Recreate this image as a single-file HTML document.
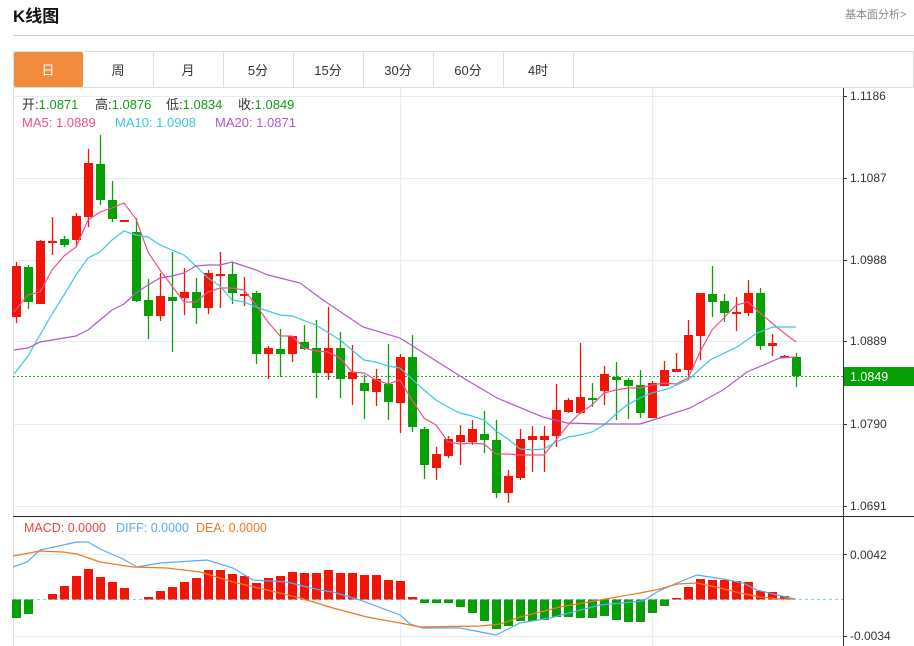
<!DOCTYPE html>
<html><head><meta charset="utf-8"><style>
html,body{margin:0;padding:0;background:#fff;width:914px;height:646px;overflow:hidden;font-family:"Liberation Sans","Noto Sans CJK SC",sans-serif}
svg text{font-family:"Liberation Sans","Noto Sans CJK SC",sans-serif}
</style></head><body>
<svg id="s" width="914" height="646" xmlns="http://www.w3.org/2000/svg">
<text x="13" y="22" font-size="17" font-weight="bold" fill="#111">K线图</text>
<text x="845" y="18" font-size="11" fill="#888">基本面分析&gt;</text>
<line x1="13" y1="35.5" x2="914" y2="35.5" stroke="#ccc"/>
<rect x="13.5" y="51.5" width="900" height="36" fill="#fff" stroke="#ddd"/>
<rect x="14" y="52" width="69" height="35" fill="#f28c3c" rx="2"/>
<g stroke="#ddd"><line x1="153.5" y1="52" x2="153.5" y2="87"/><line x1="223.5" y1="52" x2="223.5" y2="87"/><line x1="293.5" y1="52" x2="293.5" y2="87"/><line x1="363.5" y1="52" x2="363.5" y2="87"/><line x1="433.5" y1="52" x2="433.5" y2="87"/><line x1="503.5" y1="52" x2="503.5" y2="87"/><line x1="573.5" y1="52" x2="573.5" y2="87"/></g>
<g font-size="13" fill="#333" text-anchor="middle"><text x="48" y="75" fill="#fff">日</text><text x="118" y="75">周</text><text x="188" y="75">月</text><text x="258" y="75">5分</text><text x="328" y="75">15分</text><text x="398" y="75">30分</text><text x="468" y="75">60分</text><text x="538" y="75">4时</text></g>
<line x1="13.5" y1="88" x2="13.5" y2="646" stroke="#ddd"/>
<g stroke="#e1ecf4"><line x1="13" y1="96.5" x2="843" y2="96.5"/><line x1="13" y1="178.5" x2="843" y2="178.5"/><line x1="13" y1="260.5" x2="843" y2="260.5"/><line x1="13" y1="341.5" x2="843" y2="341.5"/><line x1="13" y1="424.5" x2="843" y2="424.5"/><line x1="13" y1="506.5" x2="843" y2="506.5"/><line x1="400.5" y1="88" x2="400.5" y2="646"/><line x1="652.5" y1="88" x2="652.5" y2="646"/><line x1="13" y1="554.5" x2="843" y2="554.5"/><line x1="13" y1="636.5" x2="843" y2="636.5"/></g>
<line x1="843.5" y1="88" x2="843.5" y2="646" stroke="#333"/>
<line x1="13" y1="516.5" x2="914" y2="516.5" stroke="#222"/>
<g font-size="12" fill="#333"><text x="850" y="100">1.1186</text><text x="850" y="182">1.1087</text><text x="850" y="264">1.0988</text><text x="850" y="345">1.0889</text><text x="850" y="428">1.0790</text><text x="850" y="510">1.0691</text><text x="850" y="559">0.0042</text><text x="850" y="640">-0.0034</text></g>
<g stroke="#333"><line x1="843" y1="96.5" x2="847" y2="96.5"/><line x1="843" y1="178.5" x2="847" y2="178.5"/><line x1="843" y1="260.5" x2="847" y2="260.5"/><line x1="843" y1="341.5" x2="847" y2="341.5"/><line x1="843" y1="424.5" x2="847" y2="424.5"/><line x1="843" y1="506.5" x2="847" y2="506.5"/><line x1="843" y1="554.5" x2="847" y2="554.5"/><line x1="843" y1="636.5" x2="847" y2="636.5"/></g>
<line x1="13" y1="376.5" x2="843" y2="376.5" stroke="#1fb51f" stroke-dasharray="2,2"/>
<rect x="844" y="367" width="70" height="19" fill="#06a006"/>
<text x="850" y="381" font-size="12.5" fill="#fff">1.0849</text>
<line x1="13" y1="599.5" x2="843" y2="599.5" stroke="#8ccff0" stroke-dasharray="3,3"/>
<g id="c"></g>
<g font-size="13">
<text x="22" y="109" fill="#333">开:<tspan fill="#13a013">1.0871</tspan></text>
<text x="95" y="109" fill="#333">高:<tspan fill="#13a013">1.0876</tspan></text>
<text x="166" y="109" fill="#333">低:<tspan fill="#13a013">1.0834</tspan></text>
<text x="238" y="109" fill="#333">收:<tspan fill="#13a013">1.0849</tspan></text>
<text x="22" y="127" fill="#f0508a">MA5: 1.0889</text>
<text x="115" y="127" fill="#3cc8dc">MA10: 1.0908</text>
<text x="215" y="127" fill="#b05ac8">MA20: 1.0871</text>
</g>
<g font-size="12.5">
<text x="24" y="532" fill="#ee4444">MACD: 0.0000</text>
<text x="116" y="532" fill="#5aaaf0">DIFF: 0.0000</text>
<text x="196" y="532" fill="#f07820">DEA: 0.0000</text>
</g>
</svg>
<script>
var R="#f31408",G="#06a006";
var K=[[1,266,317,262,323],[0,267,302,265,309],[1,241,304,240,304],[1,241,242,217,255],[0,239,245,236,247],[1,216,240,213,247],[1,163,217,149,227],[0,164,200,135,205],[0,200,219,181,222],[1,220,221,220,221],[0,232,301,218,302],[0,300,316,279,339],[1,296,316,273,321],[0,297,301,252,352],[1,292,298,268,315],[0,292,308,278,324],[1,273,308,270,314],[1,274,275,252,308],[0,274,293,262,304],[1,294,295,277,306],[0,293,354,291,364],[1,348,354,346,379],[0,349,354,329,377],[1,336,354,336,362],[0,342,349,325,350],[0,348,373,320,398],[1,348,373,307,380],[0,348,379,332,398],[1,372,379,345,405],[0,383,391,375,419],[1,379,392,369,406],[0,384,402,344,420],[1,357,403,354,433],[0,357,427,335,432],[0,429,465,427,479],[1,454,468,447,480],[1,439,456,436,458],[1,435,442,425,465],[1,429,442,420,445],[0,434,440,411,453],[0,440,493,420,498],[1,476,493,470,503],[1,439,478,429,480],[1,436,440,426,472],[1,436,440,426,472],[1,410,436,384,447],[1,400,412,398,413],[1,397,413,343,414],[0,398,400,383,407],[1,374,391,366,405],[0,377,380,362,420],[0,380,386,378,419],[0,385,413,370,418],[1,383,418,381,418],[1,370,386,361,386],[1,369,372,353,372],[1,335,370,320,380],[1,293,336,293,360],[0,294,302,266,317],[0,301,313,294,322],[1,312,313,297,331],[1,293,313,280,316],[0,293,346,288,350],[1,343,346,334,356],[1,356,357,355,358],[0,357,376,353,387]];
var H=[618,614,600,594,586,576,569,577,582,588,600,597,591,587,582,578,570,570,574,576,583,578,576,572,573,573,570,573,573,575,575,580,581,597,603,603,603,607,613,621,629,626,621,621,620,617,617,618,618,616,620,622,622,613,606,598,587,579,580,580,581,582,591,592,596,599];
var s="";
function X(i){return 16.5+12*i;}
K.forEach(function(k,i){var x=X(i),c=k[0]?R:G;s+='<line x1="'+x+'" y1="'+k[3]+'" x2="'+x+'" y2="'+k[4]+'" stroke="'+c+'" stroke-width="1.3"/>';var h=Math.max(k[2]-k[1],2);s+='<rect x="'+(x-4.5)+'" y="'+k[1]+'" width="9" height="'+h+'" fill="'+c+'"/>';});
H.forEach(function(v,i){var x=X(i);var up=v<599.5;var y=up?v:599.5,h=Math.abs(v-599.5);if(h<1)return;s+='<rect x="'+(x-4.5)+'" y="'+y+'" width="9" height="'+h+'" fill="'+(up?R:G)+'"/>';});
function P(p,c){s+='<polyline fill="none" stroke="'+c+'" stroke-width="1.2" points="'+p+'"/>';}
P("14,312 28,295 40,292 52,270 64,256 76,247 88,220 100,212 112,208 124,203 136,219 148,252 160,270 172,286 184,302 196,302 208,292 220,288 232,288 244,290 256,305 268,322 280,336 292,336 304,348 316,351 328,352 340,358 352,372 364,373 376,380 388,384 400,380 412,400 424,418 436,425 448,442 460,444 472,443 484,444 496,454 508,454 520,455 532,455 544,455 556,440 568,425 580,413 592,405 604,393 616,390 628,388 640,388 652,385 664,383 676,384 688,378 700,352 712,330 724,318 736,305 748,302 760,313 772,323 784,333 796,342","#f0508a");
P("14,374 28,356 40,335 52,314 64,295 76,275 88,258 100,252 112,240 124,231 136,235 148,237 160,245 172,250 184,255 196,266 208,278 220,286 232,300 244,302 256,307 268,311 280,315 292,316 316,325 340,340 364,360 376,362 388,366 400,368 412,379 424,390 436,400 448,407 460,413 472,416 484,420 496,431 508,439 520,449 532,450 544,449 556,442 568,437 580,435 592,432 604,425 616,414 627,405 640,398 652,393 667,389 688,380 710,360 737,347 757,333 773,327 796,327","#3cc8dc");
P("14,350 28,348 40,342 52,340 64,338 76,336 88,330 100,320 112,310 124,304 136,293 148,285 160,278 172,276 184,273 196,266 208,265 220,265 232,262 244,266 256,270 268,275 280,278 300,283 323,300 363,327 400,338 430,357 460,376 497,398 543,417 567,423 600,424 625,424 640,424 653,420 690,408 723,390 747,372 780,358 796,357","#b05ac8");
P("13,567 27,562 40,550 77,542 88,542 100,549 123,559 137,567 160,563 207,560 233,568 253,580 287,582 307,587 320,590 333,592 360,600 400,615 410,624 423,628 460,628 496,635 520,623 550,618 600,605 643,601 657,592 677,583 697,575 723,579 743,583 757,590 777,595 795,599","#5aaaf0");
P("13,556 40,551 63,552 77,554 100,562 133,567 167,568 200,572 233,582 267,590 300,598 333,608 367,617 400,623 420,627 480,626 500,624 520,617 560,607 600,600 640,593 660,589 677,584 697,583 720,588 740,593 760,597 780,599 795,599","#f07820");
document.getElementById("c").innerHTML=s;
</script>
</body></html>
